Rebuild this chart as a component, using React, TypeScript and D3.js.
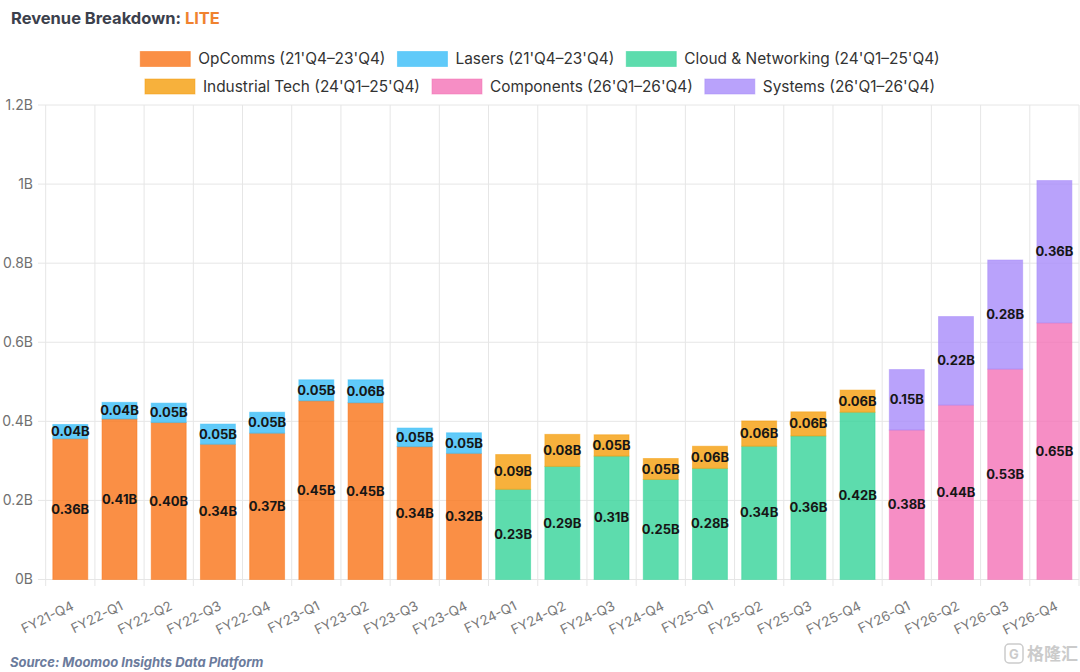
import React from 'react';
import * as d3 from 'd3';

// Fiscal quarters on the x axis
const periods = [
  'FY21-Q4', 'FY22-Q1', 'FY22-Q2', 'FY22-Q3', 'FY22-Q4',
  'FY23-Q1', 'FY23-Q2', 'FY23-Q3', 'FY23-Q4',
  'FY24-Q1', 'FY24-Q2', 'FY24-Q3', 'FY24-Q4',
  'FY25-Q1', 'FY25-Q2', 'FY25-Q3', 'FY25-Q4',
  'FY26-Q1', 'FY26-Q2', 'FY26-Q3', 'FY26-Q4',
];

// Segment revenue in billions (null = segment not reported)
const opComms = [0.356, 0.406, 0.397, 0.342, 0.37, 0.452, 0.447, 0.336, 0.319, null, null, null, null, null, null, null, null, null, null, null, null];
const lasers = [0.036, 0.042, 0.049, 0.051, 0.053, 0.053, 0.058, 0.047, 0.052, null, null, null, null, null, null, null, null, null, null, null, null];
const cloudNetworking = [null, null, null, null, null, null, null, null, null, 0.228, 0.286, 0.312, 0.253, 0.281, 0.337, 0.363, 0.423, null, null, null, null];
const industrialTech = [null, null, null, null, null, null, null, null, null, 0.088, 0.081, 0.054, 0.053, 0.056, 0.064, 0.061, 0.056, null, null, null, null];
const components = [null, null, null, null, null, null, null, null, null, null, null, null, null, null, null, null, null, 0.378, 0.441, 0.532, 0.649];
const systems = [null, null, null, null, null, null, null, null, null, null, null, null, null, null, null, null, null, 0.153, 0.224, 0.276, 0.36];

const seriesNames = [
  "OpComms (21'Q4–23'Q4)",
  "Lasers (21'Q4–23'Q4)",
  "Cloud & Networking (24'Q1–25'Q4)",
  "Industrial Tech (24'Q1–25'Q4)",
  "Components (26'Q1–26'Q4)",
  "Systems (26'Q1–26'Q4)",
];
const seriesValues = [opComms, lasers, cloudNetworking, industrialTech, components, systems];
const seriesColors = ['#F97316', '#38BDF8', '#34D399', '#F59E0B', '#F472B6', '#A78BFA'];
const yTicks = [0, 0.2, 0.4, 0.6, 0.8, 1, 1.2];
const legendRows = [[0, 1, 2], [3, 4, 5]];

const W = 1080;
const H = 672;
const FONT = 'Inter, "Noto Sans", sans-serif';

let ctx: CanvasRenderingContext2D | null = null;
function textWidth(s: string, font: string) {
  if (!ctx) ctx = document.createElement('canvas').getContext('2d');
  if (!ctx) return s.length * 8;
  ctx.font = font;
  return ctx.measureText(s).width;
}

const App: React.FC = () => {
  const x = d3.scaleBand<string>().domain(periods).range([45.7, 1079]).padding(0);
  const y = d3.scaleLinear().domain([0, 1.2]).range([579.5, 105]);
  const barW = x.bandwidth() * 0.71;

  const rows = periods.map((p, i) => {
    const r: Record<string, number> = {};
    seriesValues.forEach((s, k) => (r[k] = s[i] ?? 0));
    return r;
  });
  const stacked = d3.stack<Record<string, number>>().keys(seriesValues.map((_, k) => String(k)))(rows);
  const fmt = d3.format('.2f');
  const tickFmt = d3.format('~g');

  // legend layout
  const boxW = 50, boxH = 15, gapText = 8, gapItem = 12;
  const legendSize = 15.4;
  const legendFont = `${legendSize}px ${FONT}`;
  const legend = legendRows.map((row, ri) => {
    const widths = row.map((k) => boxW + gapText + textWidth(seriesNames[k], legendFont));
    const total = d3.sum(widths) + gapItem * (row.length - 1);
    let cx = W / 2 - total / 2;
    return row.map((k, j) => {
      const item = { k, x: cx, y: 59 + ri * 27.5 };
      cx += widths[j] + gapItem;
      return item;
    });
  }).flat();

  return (
    <svg width={W} height={H} style={{ position: 'absolute', left: 0, top: 0, background: '#fff' }} fontFamily={FONT}>
      <text x={11} y={24} fontSize={16.5} fontWeight={700} fill="#3b404c">
        Revenue Breakdown: <tspan fill="#F0822F">LITE</tspan>
      </text>

      {legend.map((d) => (
        <g key={d.k}>
          <rect x={d.x} y={d.y - boxH / 2} width={boxW} height={boxH} fill={seriesColors[d.k]} fillOpacity={0.8} stroke={seriesColors[d.k]} strokeOpacity={0.5} strokeWidth={1} />
          <text x={d.x + boxW + gapText} y={d.y} dy="0.35em" fontSize={legendSize} fill="#333">{seriesNames[d.k]}</text>
        </g>
      ))}

      {/* grid */}
      {yTicks.map((t) => (
        <g key={t}>
          <line x1={38} x2={1079} y1={y(t)} y2={y(t)} stroke="#e6e6e6" strokeWidth={1} />
          <text x={33} y={y(t)} dy="0.35em" textAnchor="end" fontSize={14} fill="#707070">{tickFmt(t) + 'B'}</text>
        </g>
      ))}
      {periods.concat(['end']).map((p, i) => {
        const gx = 45.7 + i * x.step();
        return <line key={p} x1={gx} x2={gx} y1={y(1.2)} y2={586} stroke="#e6e6e6" strokeWidth={1} />;
      })}

      {/* bars */}
      {stacked.map((layer) => (
        <g key={layer.key}>
          {layer.map((seg, i) => {
            const v = seg[1] - seg[0];
            if (v <= 0) return null;
            const c = seriesColors[+layer.key];
            return (
              <rect key={i} x={(x(periods[i]) ?? 0) + (x.bandwidth() - barW) / 2} y={y(seg[1])} width={barW} height={y(seg[0]) - y(seg[1])}
                fill={c} fillOpacity={0.8} stroke={c} strokeOpacity={0.5} strokeWidth={1} />
            );
          })}
        </g>
      ))}
      {stacked.map((layer) => (
        <g key={'l' + layer.key}>
          {layer.map((seg, i) => {
            const v = seg[1] - seg[0];
            if (v <= 0) return null;
            return (
              <text key={i} x={(x(periods[i]) ?? 0) + x.bandwidth() / 2} y={(y(seg[0]) + y(seg[1])) / 2} dy="0.35em" textAnchor="middle"
                fontSize={13} fontWeight={700} fill="#161616">{fmt(v) + 'B'}</text>
            );
          })}
        </g>
      ))}

      {/* x labels */}
      {periods.map((p) => {
        const cx = (x(p) ?? 0) + x.bandwidth() / 2;
        return (
          <text key={p} transform={`translate(${cx},${600}) rotate(-26)`} textAnchor="end" dy="0.75em" fontSize={13.5} fill="#7a7a7a">{p}</text>
        );
      })}

      <text x={10} y={667} fontSize={13} fontWeight={700} fontStyle="italic" fill="#6b7b9c">Source: Moomoo Insights Data Platform</text>

      <g opacity={0.6}>
        <rect x={1005} y={644} width={18} height={19} rx={4} fill="none" stroke="#aaa" strokeWidth={1.5} />
        <text x={1014} y={654} dy="0.36em" textAnchor="middle" fontSize={13} fontWeight={700} fill="#aaa">G</text>
        <text x={1027} y={654} dy="0.36em" fontSize={17} fontFamily='"Noto Sans CJK SC"' fontWeight={700} fill="#aaa">格隆汇</text>
      </g>
    </svg>
  );
};

export default App;
